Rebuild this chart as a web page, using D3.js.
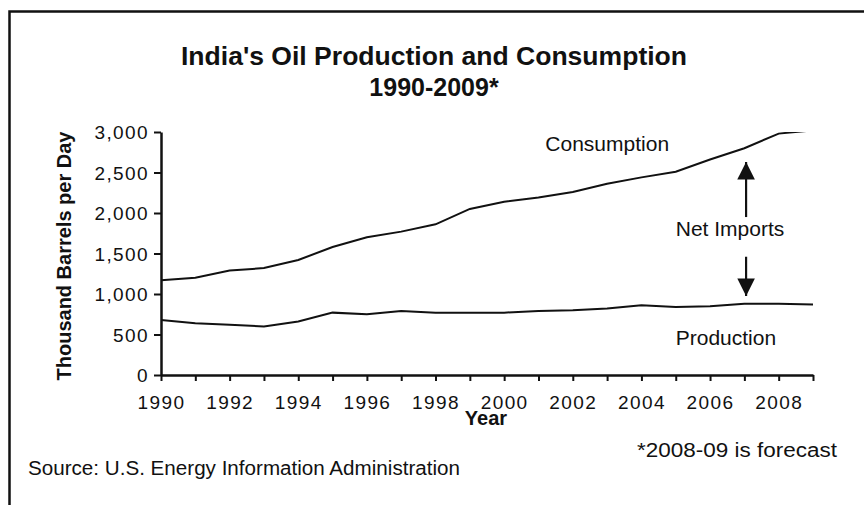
<!DOCTYPE html>
<html>
<head>
<meta charset="utf-8">
<script src="https://cdn.jsdelivr.net/npm/d3@7"></script>
<style>
  body { margin: 0; background: #fff; }
  svg { display: block; font-family: "Liberation Sans", Arial, sans-serif; }
  .tick text { font-size: 19px; letter-spacing: 1.4px; fill: #111; }
</style>
</head>
<body>
<script>
var svgWidth = 864;
var svgHeight = 505;

// data (thousand barrels per day)
var years = [1990, 1991, 1992, 1993, 1994, 1995, 1996, 1997, 1998, 1999,
             2000, 2001, 2002, 2003, 2004, 2005, 2006, 2007, 2008, 2009];
var consumption = [1170, 1200, 1290, 1320, 1420, 1580, 1700, 1770, 1860, 2050,
                   2140, 2190, 2260, 2360, 2440, 2510, 2660, 2800, 2980, 3020];
var production = [680, 640, 620, 600, 660, 770, 750, 790, 770, 770,
                  770, 790, 800, 820, 860, 840, 850, 880, 880, 870];
var yTicks = [0, 500, 1000, 1500, 2000, 2500, 3000];
var xLabelYears = [1990, 1992, 1994, 1996, 1998, 2000, 2002, 2004, 2006, 2008];

// plot area
var plot = { left: 161, right: 813, top: 132, bottom: 375 };

var svg = d3.select("body")
  .append("svg")
  .attr("width", svgWidth)
  .attr("height", svgHeight);

// outer frame (runs off the right and bottom edges)
svg.append("path")
  .attr("d", "M9.5,520 V11.5 H880")
  .attr("fill", "none")
  .attr("stroke", "#111")
  .attr("stroke-width", 2.5);

svg.append("text")
  .attr("x", 434).attr("y", 65)
  .attr("text-anchor", "middle")
  .attr("font-size", 26).attr("font-weight", "bold")
  .attr("fill", "#111")
  .attr("textLength", 506).attr("lengthAdjust", "spacingAndGlyphs")
  .text("India's Oil Production and Consumption");

svg.append("text")
  .attr("x", 434).attr("y", 96)
  .attr("text-anchor", "middle")
  .attr("font-size", 25).attr("font-weight", "bold")
  .attr("fill", "#111")
  .text("1990-2009*");

var x = d3.scaleLinear()
  .domain([1990, 2009])
  .range([plot.left, plot.right]);

var y = d3.scaleLinear()
  .domain([0, 3000])
  .range([plot.bottom, plot.top]);

var bottomAxis = d3.axisBottom(x)
  .tickValues(years)
  .tickFormat(d => xLabelYears.indexOf(d) >= 0 ? d : "")
  .tickSize(6)
  .tickPadding(15)
  .tickSizeOuter(0);

var leftAxis = d3.axisLeft(y)
  .tickValues(yTicks)
  .tickFormat(d3.format(","))
  .tickSize(7)
  .tickPadding(5)
  .tickSizeOuter(0);

var gx = svg.append("g")
  .attr("transform", `translate(0, ${plot.bottom})`)
  .call(bottomAxis);

var gy = svg.append("g")
  .attr("transform", `translate(${plot.left}, 0)`)
  .call(leftAxis);

[gx, gy].forEach(g => {
  g.select(".domain").attr("stroke", "#111").attr("stroke-width", 2.5);
  g.selectAll(".tick line").attr("stroke", "#111").attr("stroke-width", 2);
  g.selectAll(".tick text").attr("font-family", null).attr("font-size", null);
});
gy.selectAll(".tick text").attr("dy", "0.36em");

// axis titles
svg.append("text")
  .attr("transform", "translate(71, 256) rotate(-90)")
  .attr("text-anchor", "middle")
  .attr("font-size", 20).attr("font-weight", "bold")
  .attr("fill", "#111")
  .text("Thousand Barrels per Day");

svg.append("text")
  .attr("x", 486).attr("y", 425)
  .attr("text-anchor", "middle")
  .attr("font-size", 20).attr("font-weight", "bold")
  .attr("fill", "#111")
  .text("Year");

// lines
svg.append("clipPath").attr("id", "plotclip")
  .append("rect")
  .attr("x", plot.left).attr("y", plot.top)
  .attr("width", plot.right - plot.left + 2)
  .attr("height", plot.bottom - plot.top);

var line = d3.line()
  .x((d, i) => x(years[i]))
  .y(d => y(d));

[consumption, production].forEach(series => {
  svg.append("path")
    .datum(series)
    .attr("clip-path", "url(#plotclip)")
    .attr("fill", "none")
    .attr("stroke", "#111")
    .attr("stroke-width", 2)
    .attr("d", line);
});

// series labels and net-imports arrows
svg.append("text")
  .attr("x", x(2001.2)).attr("y", y(2760))
  .attr("font-size", 21).attr("fill", "#111")
  .text("Consumption");

svg.append("text")
  .attr("x", x(2005)).attr("y", y(370))
  .attr("font-size", 21).attr("fill", "#111")
  .text("Production");

svg.append("text")
  .attr("x", x(2005)).attr("y", y(1720))
  .attr("font-size", 21).attr("fill", "#111")
  .text("Net Imports");

svg.append("defs").append("marker")
  .attr("id", "head")
  .attr("viewBox", "0 0 10 10")
  .attr("refX", 10).attr("refY", 5)
  .attr("markerWidth", 8).attr("markerHeight", 8)
  .attr("markerUnits", "strokeWidth")
  .attr("orient", "auto")
  .append("path")
  .attr("d", "M0,0 L10,5 L0,10 Z")
  .attr("fill", "#111");

var arrows = [[1950, 2630], [1460, 975]];
arrows.forEach(a => {
  svg.append("line")
    .attr("x1", x(2007.05)).attr("y1", y(a[0]))
    .attr("x2", x(2007.05)).attr("y2", y(a[1]))
    .attr("stroke", "#111")
    .attr("stroke-width", 2.2)
    .attr("marker-end", "url(#head)");
});

// notes
svg.append("text")
  .attr("x", 637).attr("y", 457)
  .attr("font-size", 20).attr("fill", "#111")
  .attr("textLength", 200).attr("lengthAdjust", "spacingAndGlyphs")
  .text("*2008-09 is forecast");

svg.append("text")
  .attr("x", 28).attr("y", 475)
  .attr("font-size", 20).attr("fill", "#111")
  .attr("textLength", 432).attr("lengthAdjust", "spacingAndGlyphs")
  .text("Source: U.S. Energy Information Administration");
</script>
</body>
</html>
